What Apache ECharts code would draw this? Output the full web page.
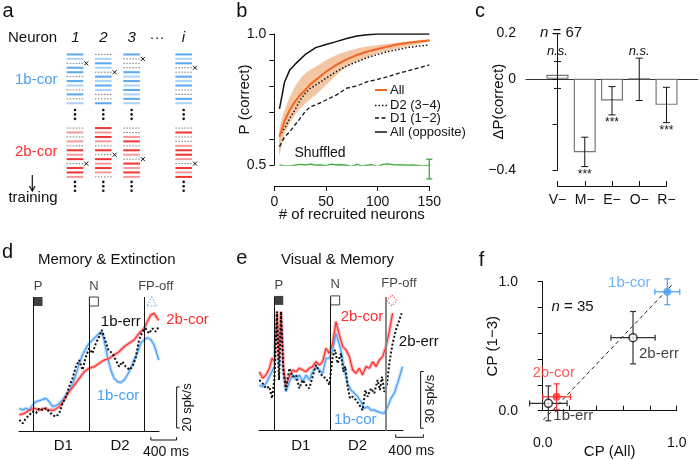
<!DOCTYPE html>
<html>
<head>
<meta charset="utf-8">
<script src="https://cdn.jsdelivr.net/npm/echarts@6/dist/echarts.min.js"></script>
<style>
  html, body { margin: 0; padding: 0; background: #fff; }
  #main { width: 700px; height: 460px; }
</style>
</head>
<body>
<div id="main"></div>
<script>
const FONT = '"Liberation Sans", Arial, Helvetica, sans-serif';
const INK = '#111';
const BLUE = '#4a9ff5';
const BLUE_BAND = '#c4e0fa';
const RED = '#ff2d2d';
const RED_BAND = '#f9b8b8';
const ORANGE = '#f26522';
const ORANGE_BAND = '#f4c7a4';
const GREEN = '#3aaa35';

// ---- panel a : raster schematic (b=blue, l=light blue, r=red, s=light red, p=dotted, x=dotted + cross)
const neuronHeaders = ['1', '2', '3', '···', 'i'];
const neuronCols = [0, 1, 2, 3.84];
const cor1bRows = ['blxbbpblpbpl', 'plblxblblppb', 'bxppblblblbl', 'blbxpblbppbl'];
const cor2bRows = ['pspsprsrxrrs', 'rsrsprxrsrsp', 'ppsrprsxrsrs', 'prppsrrsxrsr'];

// ---- panel b : decoding accuracy
const nNeurons = [5, 10, 15, 20, 25, 30, 35, 40, 50, 60, 70, 80, 90, 100, 110, 120, 130, 140, 150];
const pAll = [0.608, 0.669, 0.71, 0.742, 0.767, 0.786, 0.809, 0.824, 0.856, 0.882, 0.903, 0.92, 0.933, 0.943, 0.952, 0.961, 0.967, 0.971, 0.975];
const pD2 = [0.611, 0.64, 0.678, 0.71, 0.748, 0.774, 0.793, 0.805, 0.831, 0.856, 0.878, 0.894, 0.91, 0.922, 0.933, 0.941, 0.949, 0.954, 0.958];
const pD1 = [0.57, 0.608, 0.627, 0.653, 0.678, 0.704, 0.723, 0.729, 0.748, 0.767, 0.793, 0.802, 0.818, 0.827, 0.837, 0.85, 0.86, 0.871, 0.882];
const pOpposite = [0.714, 0.818, 0.863, 0.884, 0.903, 0.922, 0.935, 0.948, 0.96, 0.971, 0.983, 0.992, 0.997, 1, 1, 1, 1, 1, 1];
const nBand = [5, 10, 20, 30, 40, 50, 60, 70, 80, 100, 120, 150];
const pAllUpper = [0.634, 0.71, 0.8, 0.85, 0.875, 0.9, 0.92, 0.933, 0.945, 0.958, 0.967, 0.98];
const pAllLower = [0.538, 0.621, 0.691, 0.735, 0.767, 0.805, 0.843, 0.875, 0.894, 0.926, 0.945, 0.971];
const nShuffled = [5, 10, 15, 20, 25, 30, 35, 40, 45, 50, 55, 60, 65, 70, 75, 80, 85, 90, 95, 100, 105, 110, 115, 120, 125, 130, 135, 140, 145, 150];
const pShuffled = [0.5, 0.497, 0.497, 0.499, 0.502, 0.5, 0.503, 0.499, 0.5, 0.498, 0.503, 0.5, 0.501, 0.499, 0.495, 0.502, 0.497, 0.499, 0.501, 0.494, 0.502, 0.504, 0.501, 0.5, 0.5, 0.499, 0.5, 0.498, 0.497, 0.498];
const shuffledErr = [150, 0.447, 0.522];
const legendB = ['All', 'D2 (3\u22124)', 'D1 (1\u22122)', 'All (opposite)'];

// ---- panel c : ablation
const ablations = ['V\u2212', 'M\u2212', 'E\u2212', 'O\u2212', 'R\u2212'];
const deltaP = [0.018, -0.322, -0.095, 0, -0.114];
const deltaPLo = [-0.042, -0.385, -0.158, -0.095, -0.192];
const deltaPHi = [0.076, -0.256, -0.034, 0.091, -0.037];
const deltaPSig = ['n.s.', '***', '***', 'n.s.', '***'];

// ---- panel d : Memory & Extinction (time ms, spk/s)
const dEvents = [0, 864, 1713];
const eventNames = ['P', 'N', 'FP-off'];
const d1bCor = [[-216,11.1],[-165,10.2],[-113,11.1],[-62,10.2],[-10,12.7],[41,14.3],[118,15.1],[195,15.9],[247,14.3],[298,11.9],[375,12.7],[453,15.1],[504,17.6],[581,20.8],[658,27.3],[710,33.0],[761,37.1],[813,40.3],[864,42.8],[941,45.2],[1018,47.6],[1059,48.5],[1095,44.4],[1147,36.3],[1198,29.8],[1250,25.7],[1301,24.1],[1353,23.6],[1404,24.9],[1455,27.3],[1507,30.6],[1558,34.6],[1609,37.9],[1661,42.8],[1712,44.4],[1764,45.5],[1815,44.7],[1867,42.0],[1918,37.1],[1940,34.6]];
const d2bCor = [[-216,7.8],[-139,8.6],[-62,10.2],[15,11.1],[93,10.2],[170,11.1],[247,10.2],[324,10.2],[401,11.9],[478,15.1],[555,19.2],[633,22.4],[710,25.7],[787,28.9],[864,30.6],[941,31.4],[1018,33.0],[1095,34.6],[1173,35.4],[1250,37.1],[1327,38.7],[1404,41.1],[1481,42.8],[1558,44.4],[1635,47.6],[1712,50.1],[1764,53.3],[1815,56.6],[1867,57.4],[1918,55.0],[1940,54.0]];
const d1bErr = [[-216,5.4],[-165,3.7],[-113,6.2],[-62,7.8],[-10,9.4],[41,8.6],[93,11.1],[144,10.2],[195,11.1],[247,9.4],[298,7.8],[350,7.0],[401,8.6],[453,13.5],[504,16.7],[555,21.6],[607,25.7],[658,31.4],[710,34.6],[761,29.8],[813,36.3],[864,40.3],[915,37.9],[967,42.8],[1018,46.0],[1059,49.3],[1111,44.4],[1162,39.5],[1224,37.9],[1275,34.6],[1327,31.4],[1378,33.8],[1430,31.4],[1492,29.8],[1543,32.2],[1584,35.8],[1635,44.4],[1687,48.5],[1738,50.1],[1790,47.6],[1841,50.1],[1893,48.5],[1940,50.9]];

// ---- panel e : Visual & Memory
const eEvents = [0, 815, 1612];
const e2bCor = [[-212,31.2],[-164,27.7],[-116,29.5],[-67,33.0],[-29,38.3],[5,36.5],[43,63.0],[72,37.4],[101,63.0],[135,33.9],[173,24.2],[221,28.6],[270,32.1],[318,31.2],[366,33.0],[414,32.1],[462,31.2],[510,33.0],[558,33.9],[606,36.5],[655,34.7],[703,36.5],[751,43.6],[799,40.9],[847,46.2],[895,57.7],[943,50.6],[992,44.5],[1040,42.7],[1088,39.2],[1136,32.1],[1184,30.3],[1232,33.0],[1280,29.5],[1328,33.9],[1377,33.0],[1425,36.5],[1473,33.9],[1521,37.4],[1569,39.2],[1617,44.5],[1665,52.4],[1713,62.1]];
const e1bCor = [[-212,24.2],[-164,23.3],[-116,25.0],[-67,28.6],[5,33.9],[43,62.1],[72,33.9],[101,62.1],[135,30.3],[173,20.6],[221,25.9],[270,29.5],[318,26.8],[366,29.5],[414,25.9],[462,29.5],[510,26.8],[558,31.2],[606,33.9],[655,32.1],[703,30.3],[751,38.3],[799,38.3],[847,42.7],[895,51.5],[967,42.7],[1016,32.1],[1064,25.0],[1112,21.5],[1160,19.8],[1208,18.0],[1256,15.3],[1304,11.8],[1352,12.7],[1400,10.9],[1448,10.9],[1496,10.1],[1545,9.5],[1593,9.2],[1641,12.7],[1689,17.1],[1737,19.8],[1785,25.0],[1834,31.2],[1858,33.9]];
const e2bErr = [[-212,26.8],[-164,25.0],[-116,22.4],[-67,23.3],[-29,17.1],[5,26.8],[43,63.0],[72,26.8],[101,63.0],[135,32.1],[173,21.5],[221,33.0],[270,28.6],[318,29.5],[366,22.4],[414,26.8],[462,24.2],[510,22.4],[558,28.6],[606,34.7],[655,31.2],[703,28.6],[751,27.7],[799,24.2],[847,39.2],[881,42.7],[919,35.6],[967,40.9],[1001,31.2],[1030,33.9],[1064,23.3],[1097,17.1],[1136,18.0],[1184,16.2],[1232,13.6],[1280,10.9],[1319,21.5],[1352,18.0],[1400,22.4],[1448,19.8],[1496,26.8],[1530,21.5],[1560,28.6],[1593,20.6],[1627,23.3],[1665,35.6],[1713,46.2],[1761,53.3],[1810,58.6],[1843,62.1]];

// ---- panel f : choice probability
const cpLabels = ['1b-cor', '2b-err', '2b-cor', '1b-err'];
const cpAll = [0.93, 0.674, 0.104, 0.042];
const cp13 = [0.922, 0.566, 0.108, 0.057];
const cpAllErr = [0.093, 0.165, 0.103, 0.14];
const cp13Err = [0.1, 0.203, 0.1, 0.135];
const cpFilled = [true, false, true, false];
const cpFit = [[0.005, -0.072], [0.975, 0.987]];

// ---------------------------------------------------------------------------
const RED_ROW0 = 16.58;
const rasterItems = [];
const rasterKinds = [];
neuronCols.forEach((x, c) => {
  cor1bRows[c].split('').forEach((k, i) => { rasterItems.push([x, i]); rasterKinds.push(k); });
  cor2bRows[c].split('').forEach((k, i) => { rasterItems.push([x, RED_ROW0 + i]); rasterKinds.push(k); });
  [12.5, 13.5, 14.5, 28.7, 29.7, 30.7].forEach(r => { rasterItems.push([x, r]); rasterKinds.push('.'); });
});

const rasterStyle = {
  b: { stroke: '#5aa8f2', lineWidth: 2 },
  l: { stroke: '#a9d3f8', lineWidth: 2 },
  r: { stroke: '#f23434', lineWidth: 2 },
  s: { stroke: '#f59a9a', lineWidth: 2 },
  p: { stroke: '#777', lineWidth: 1, lineDash: [1.5, 1.5] },
  x: { stroke: '#777', lineWidth: 1, lineDash: [1.5, 1.5] }
};

function renderRaster(params, api) {
  const kind = rasterKinds[params.dataIndex];
  const c = api.coord([api.value(0), api.value(1)]);
  if (kind === '.') {
    return { type: 'circle', shape: { cx: c[0], cy: c[1], r: 1.3 }, style: { fill: INK } };
  }
  const half = 8.3;
  const children = [{
    type: 'line', shape: { x1: c[0] - half, y1: c[1], x2: c[0] + half, y2: c[1] }, style: rasterStyle[kind]
  }];
  if (kind === 'x') {
    const cx = c[0] + half + 3, s = 2;
    children.push({ type: 'line', shape: { x1: cx - s, y1: c[1] - s, x2: cx + s, y2: c[1] + s }, style: { stroke: INK, lineWidth: 1 } });
    children.push({ type: 'line', shape: { x1: cx - s, y1: c[1] + s, x2: cx + s, y2: c[1] - s }, style: { stroke: INK, lineWidth: 1 } });
  }
  return { type: 'group', children };
}

function txt(x, y, text, o = {}) {
  return {
    type: 'text', x, y, rotation: o.rot || 0, z: 50,
    style: {
      text, fill: o.color || INK, fontSize: o.size || 14, fontFamily: FONT,
      fontStyle: o.italic ? 'italic' : 'normal',
      align: o.align || 'center', verticalAlign: 'middle', rich: o.rich
    }
  };
}

function hidden(gridIndex, min, max, extra) {
  return Object.assign({ gridIndex, type: 'value', min, max, show: false, splitLine: { show: false } }, extra || {});
}

const axisLineStyle = { show: true, lineStyle: { color: INK, width: 1 } };
const tickStyle = { show: true, length: 5, lineStyle: { color: INK, width: 1 } };
const labelStyle = { color: INK, fontSize: 14, fontFamily: FONT };
const nameStyle = { color: INK, fontSize: 15, fontFamily: FONT };
const near = (a, b) => Math.abs(a - b) < 1e-6;

function traceLine(name, data, xi, color, width, type, z) {
  return {
    name, type: 'line', xAxisIndex: xi, yAxisIndex: xi, data, showSymbol: false, symbol: 'none',
    lineStyle: { color, width, type: type || 'solid' }, z: z || 3, silent: true
  };
}

function eventSeries(xi, events, yTop, fpSymbol, fpColor, fpOffset, fpSize, fpLabelShift, lineFp) {
  return [{
    type: 'line', xAxisIndex: xi, yAxisIndex: xi, data: [], silent: true,
    markLine: {
      symbol: 'none', silent: true, label: { show: false },
      data: events.map((t, i) => ({
        xAxis: t,
        lineStyle: i === 2 && lineFp ? lineFp : { color: INK, width: 1, type: 'solid' }
      }))
    }
  }, {
    type: 'scatter', xAxisIndex: xi, yAxisIndex: xi, silent: true, z: 6,
    data: events.map((t, i) => {
      const base = { value: [t, yTop] };
      if (i === 0) return Object.assign(base, { symbol: 'rect', symbolSize: 9, symbolOffset: [4.7, 0], itemStyle: { color: INK } });
      if (i === 1) return Object.assign(base, { symbol: 'rect', symbolSize: 9, symbolOffset: [4.7, 0], itemStyle: { color: '#fff', borderColor: INK, borderWidth: 1 } });
      return Object.assign(base, {
        symbol: fpSymbol, symbolSize: fpSize, symbolOffset: [fpOffset, 0],
        itemStyle: { color: '#fff', borderColor: fpColor, borderWidth: 1, borderType: [1.5, 1.5] },
        label: { offset: [fpLabelShift, 0] }
      });
    }),
    label: {
      show: true, position: 'top', distance: 4, color: INK, fontSize: 13, fontFamily: FONT,
      formatter: p => eventNames[p.dataIndex]
    }
  }];
}

// scale bars: vertical bar (spk/s) and horizontal bar (ms)
function scaleBarSeries(xi, vBarT, vBarV0, spk, hBarT0, hBarV, ms) {
  return {
    type: 'custom', xAxisIndex: xi, yAxisIndex: xi, clip: false, silent: true, data: [[0, 0]],
    renderItem(params, api) {
      const a = api.coord([vBarT, vBarV0]), b = api.coord([vBarT, vBarV0 + spk]);
      const c = api.coord([hBarT0, hBarV]), d = api.coord([hBarT0 + ms, hBarV]);
      const st = { stroke: INK, lineWidth: 1 };
      return {
        type: 'group', children: [
          { type: 'line', shape: { x1: a[0], y1: a[1], x2: b[0], y2: b[1] }, style: st },
          { type: 'line', shape: { x1: a[0], y1: a[1], x2: a[0] + 3, y2: a[1] }, style: st },
          { type: 'line', shape: { x1: b[0], y1: b[1], x2: b[0] + 3, y2: b[1] }, style: st },
          { type: 'line', shape: { x1: c[0], y1: c[1], x2: d[0], y2: d[1] }, style: st },
          { type: 'line', shape: { x1: c[0], y1: c[1], x2: c[0], y2: c[1] - 3 }, style: st },
          { type: 'line', shape: { x1: d[0], y1: d[1], x2: d[0], y2: d[1] - 3 }, style: st }
        ]
      };
    }
  };
}

function grid(left, top, width, height) {
  return { left, top, width, height, outerBoundsMode: 'none', containLabel: false };
}

const option = {
  animation: false,
  backgroundColor: '#fff',
  textStyle: { fontFamily: FONT },
  grid: [
    grid(60, 50, 140, 150),          // a
    grid(274.3, 34, 155, 131),       // b
    grid(526, 33.3, 172, 136.7),     // c bars
    grid(557.5, 185, 109, 1),        // c category axis
    grid(19, 297, 140, 134),         // d
    grid(259, 297, 144, 133.7),      // e
    grid(542.7, 281.7, 134, 129)     // f
  ],
  xAxis: [
    hidden(0, -0.53, 4.417),
    {
      gridIndex: 1, type: 'value', min: 0, max: 150, interval: 50, offset: 21,
      axisLine: axisLineStyle, axisTick: tickStyle, axisLabel: Object.assign({ margin: 9 }, labelStyle),
      splitLine: { show: false }, name: '# of recruited neurons', nameLocation: 'middle', nameGap: 21,
      nameMoveOverlap: false, nameTextStyle: nameStyle
    },
    {
      gridIndex: 2, type: 'value', min: -1.156, max: 5.156,
      axisLine: { show: true, onZero: true, lineStyle: { color: '#333', width: 1 } },
      axisTick: { show: false }, axisLabel: { show: false }, splitLine: { show: false }
    },
    {
      gridIndex: 3, type: 'value', min: 0, max: 4, interval: 1,
      axisLine: axisLineStyle, axisTick: Object.assign({ inside: true }, tickStyle),
      axisLabel: Object.assign({ margin: 7, formatter: v => ablations[Math.round(v)] }, labelStyle),
      splitLine: { show: false }
    },
    Object.assign(hidden(4, -221, 1944), { show: true, axisLine: axisLineStyle, axisTick: { show: false }, axisLabel: { show: false } }),
    Object.assign(hidden(5, -217, 1863), { show: true, axisLine: axisLineStyle, axisTick: { show: false }, axisLabel: { show: false } }),
    {
      gridIndex: 6, type: 'value', min: 0, max: 1, interval: 0.2, offset: 20.3,
      axisLine: axisLineStyle, axisTick: Object.assign({ inside: true }, tickStyle),
      axisLabel: Object.assign({ margin: 5, formatter: v => (near(v, 0) ? '0.0' : near(v, 1) ? '1.0' : '') }, labelStyle),
      splitLine: { show: false }, name: 'CP (All)', nameLocation: 'middle', nameGap: 13,
      nameMoveOverlap: false, nameTextStyle: nameStyle
    }
  ],
  yAxis: [
    hidden(0, -1, 32.78, { inverse: true }),
    {
      gridIndex: 1, type: 'value', min: 0.5, max: 1, interval: 0.1, offset: 2,
      axisLine: axisLineStyle, axisTick: tickStyle,
      axisLabel: Object.assign({ margin: 6, formatter: v => (near(v, 0.5) ? '0.5' : near(v, 1) ? '1.0' : '') }, labelStyle),
      splitLine: { show: false }, name: 'P (correct)', nameLocation: 'middle', nameGap: 20,
      nameMoveOverlap: false, nameTextStyle: nameStyle
    },
    {
      gridIndex: 2, type: 'value', min: -0.4, max: 0.2, interval: 0.2,
      axisLine: axisLineStyle, axisTick: tickStyle,
      axisLabel: Object.assign({
        margin: 10,
        formatter: v => { const r = Math.round(v * 10) / 10; return r === 0.2 ? '0.2' : r === 0 ? '0' : r === -0.4 ? '\u22120.4' : ''; }
      }, labelStyle),
      splitLine: { show: false }, name: '\u0394P(correct)', nameLocation: 'middle', nameGap: 20,
      nameMoveOverlap: false, nameTextStyle: nameStyle
    },
    hidden(3, 0, 1),
    hidden(4, 0, 65.4),
    hidden(5, 0, 70.7),
    {
      gridIndex: 6, type: 'value', min: 0, max: 1, interval: 0.2, offset: 14.7,
      axisLine: axisLineStyle, axisTick: tickStyle,
      axisLabel: Object.assign({ margin: 10, formatter: v => (near(v, 0) ? '0.0' : near(v, 1) ? '1.0' : '') }, labelStyle),
      splitLine: { show: false }, name: 'CP (1\u22123)', nameLocation: 'middle', nameGap: 28,
      nameMoveOverlap: false, nameTextStyle: nameStyle
    }
  ],
  series: [
    // ---- a
    {
      type: 'custom', xAxisIndex: 0, yAxisIndex: 0, data: rasterItems, renderItem: renderRaster,
      clip: false, silent: true
    },
    // ---- b
    {
      type: 'custom', xAxisIndex: 1, yAxisIndex: 1, data: [[0, 0]], silent: true, z: 1,
      renderItem(params, api) {
        const pts = nBand.map((n, i) => api.coord([n, pAllUpper[i]]));
        for (let i = nBand.length - 1; i >= 0; i--) pts.push(api.coord([nBand[i], pAllLower[i]]));
        return { type: 'polygon', shape: { points: pts, smooth: 0.3 }, style: { fill: ORANGE_BAND } };
      }
    },
    traceLine('All (opposite)', nNeurons.map((n, i) => [n, pOpposite[i]]), 1, INK, 1.5),
    traceLine('D1', nNeurons.map((n, i) => [n, pD1[i]]), 1, INK, 1.3, [4, 2.5]),
    traceLine('D2', nNeurons.map((n, i) => [n, pD2[i]]), 1, INK, 1.5, [1.5, 2]),
    traceLine('All', nNeurons.map((n, i) => [n, pAll[i]]), 1, ORANGE, 2, 'solid', 4),
    traceLine('Shuffled', nShuffled.map((n, i) => [n, pShuffled[i]]), 1, GREEN, 1.3),
    {
      type: 'custom', xAxisIndex: 1, yAxisIndex: 1, data: [shuffledErr], clip: false, silent: true, z: 5,
      renderItem(params, api) {
        const lo = api.coord([api.value(0), api.value(1)]), hi = api.coord([api.value(0), api.value(2)]);
        const st = { stroke: GREEN, lineWidth: 1.3 };
        return {
          type: 'group', children: [
            { type: 'line', shape: { x1: lo[0], y1: lo[1], x2: hi[0], y2: hi[1] }, style: st },
            { type: 'line', shape: { x1: lo[0] - 3, y1: lo[1], x2: lo[0] + 3, y2: lo[1] }, style: st },
            { type: 'line', shape: { x1: hi[0] - 3, y1: hi[1], x2: hi[0] + 3, y2: hi[1] }, style: st }
          ]
        };
      }
    },
    // ---- c
    {
      type: 'bar', xAxisIndex: 2, yAxisIndex: 2, barWidth: 22, silent: true,
      data: deltaP.map((v, i) => [i, v]),
      itemStyle: { color: '#fff', borderColor: '#777', borderWidth: 1.2 }
    },
    {
      type: 'custom', xAxisIndex: 2, yAxisIndex: 2, clip: false, silent: true, z: 5,
      data: deltaP.map((v, i) => [i, deltaPLo[i], deltaPHi[i]]),
      renderItem(params, api) {
        const i = params.dataIndex;
        const lo = api.coord([api.value(0), api.value(1)]), hi = api.coord([api.value(0), api.value(2)]);
        const st = { stroke: INK, lineWidth: 1 };
        const sig = deltaPSig[i];
        const children = [
          { type: 'line', shape: { x1: lo[0], y1: lo[1], x2: hi[0], y2: hi[1] }, style: st },
          { type: 'line', shape: { x1: lo[0] - 3.5, y1: lo[1], x2: lo[0] + 3.5, y2: lo[1] }, style: st },
          { type: 'line', shape: { x1: hi[0] - 3.5, y1: hi[1], x2: hi[0] + 3.5, y2: hi[1] }, style: st }
        ];
        if (sig === 'n.s.') {
          const p = api.coord([api.value(0), 0.12]);
          children.push({ type: 'text', x: p[0], y: p[1], style: { text: sig, fill: INK, fontSize: 13, fontStyle: 'italic', fontFamily: FONT, align: 'center', verticalAlign: 'middle' } });
        } else {
          children.push({ type: 'text', x: lo[0], y: lo[1] + 2, style: { text: sig, fill: INK, fontSize: 12, fontFamily: FONT, align: 'center', verticalAlign: 'top' } });
        }
        return { type: 'group', children };
      }
    },
    // ---- d
    traceLine('d1bCorBand', d1bCor, 4, BLUE_BAND, 3.5, 'solid', 2),
    traceLine('d2bCorBand', d2bCor, 4, RED_BAND, 3.5, 'solid', 2),
    traceLine('d1bCor', d1bCor, 4, BLUE, 1.2),
    traceLine('d2bCor', d2bCor, 4, RED, 1.2),
    traceLine('d1bErr', d1bErr, 4, INK, 2, [2, 2], 4),
    ...eventSeries(4, dEvents, 63.2, 'triangle', BLUE, 7.7, [10, 9], 4),
    scaleBarSeries(4, 2217, 1.5, 20, 1817, -4.4, 400),
    // ---- e
    traceLine('e1bCorBand', e1bCor, 5, BLUE_BAND, 3.5, 'solid', 2),
    traceLine('e2bCorBand', e2bCor, 5, RED_BAND, 3.5, 'solid', 2),
    traceLine('e1bCor', e1bCor, 5, BLUE, 1.2),
    traceLine('e2bCor', e2bCor, 5, RED, 1.2),
    traceLine('e2bErr', e2bErr, 5, INK, 2, [2, 2], 4),
    ...eventSeries(5, eEvents, 68.9, 'diamond', RED, 6.3, [10, 11], 7, { color: '#888', width: 2, type: 'solid' }),
    scaleBarSeries(5, 2118, 1.3, 30, 1757, -3.5, 400),
    // ---- f
    Object.assign(traceLine('fit', cpFit, 6, '#222', 1, [4, 3], 2), { clip: false }),
    {
      type: 'custom', xAxisIndex: 6, yAxisIndex: 6, clip: false, silent: true, z: 4,
      data: cpAll.map((x, i) => [x, cp13[i], cpAllErr[i], cp13Err[i]]),
      renderItem(params, api) {
        const i = params.dataIndex;
        const x = api.value(0), y = api.value(1), ex = api.value(2), ey = api.value(3);
        const color = cpFilled[i] ? (i === 0 ? BLUE : RED) : '#333';
        const l = api.coord([x - ex, y]), r = api.coord([x + ex, y]);
        const t = api.coord([x, y + ey]), b = api.coord([x, y - ey]);
        const st = { stroke: color, lineWidth: 1.2 };
        return {
          type: 'group', children: [
            { type: 'line', shape: { x1: l[0], y1: l[1], x2: r[0], y2: r[1] }, style: st },
            { type: 'line', shape: { x1: l[0], y1: l[1] - 3, x2: l[0], y2: l[1] + 3 }, style: st },
            { type: 'line', shape: { x1: r[0], y1: r[1] - 3, x2: r[0], y2: r[1] + 3 }, style: st },
            { type: 'line', shape: { x1: t[0], y1: t[1], x2: b[0], y2: b[1] }, style: st },
            { type: 'line', shape: { x1: t[0] - 3, y1: t[1], x2: t[0] + 3, y2: t[1] }, style: st },
            { type: 'line', shape: { x1: b[0] - 3, y1: b[1], x2: b[0] + 3, y2: b[1] }, style: st }
          ]
        };
      }
    },
    {
      type: 'scatter', xAxisIndex: 6, yAxisIndex: 6, silent: true, z: 6, symbolSize: 8,
      data: cpAll.map((x, i) => ({
        value: [x, cp13[i]],
        itemStyle: cpFilled[i]
          ? { color: i === 0 ? BLUE : RED }
          : { color: '#fff', borderColor: INK, borderWidth: 1.5 },
        label: {
          show: true, position: 'inside', fontSize: 15, fontFamily: FONT,
          color: cpFilled[i] ? (i === 0 ? BLUE : RED) : INK,
          offset: [[-38, -9], [26, 16], [-3, -24], [25, 13]][i],
          formatter: cpLabels[i]
        }
      }))
    }
  ],
  graphic: {
    elements: [
      // panel letters
      txt(8, 11.7, 'a', { size: 20 }),
      txt(241.7, 11.7, 'b', { size: 20 }),
      txt(480, 11.7, 'c', { size: 20 }),
      txt(7.5, 252, 'd', { size: 20 }),
      txt(241.7, 258.4, 'e', { size: 20 }),
      txt(481.5, 260, 'f', { size: 20 }),
      // a
      txt(8, 38.3, 'Neuron', { size: 15, align: 'left' }),
      txt(75.5, 38.3, neuronHeaders[0], { size: 15, italic: true }),
      txt(103.3, 38.3, neuronHeaders[1], { size: 15, italic: true }),
      txt(131.7, 38.3, neuronHeaders[2], { size: 15, italic: true }),
      txt(157, 38.3, neuronHeaders[3], { size: 15 }),
      txt(183.5, 38.3, neuronHeaders[4], { size: 15, italic: true }),
      txt(57.5, 79.5, '1b-cor', { size: 15, align: 'right', color: BLUE }),
      txt(57.5, 152, '2b-cor', { size: 15, align: 'right', color: RED }),
      txt(33, 198, 'training', { size: 15 }),
      { type: 'line', shape: { x1: 32.3, y1: 175, x2: 32.3, y2: 190 }, style: { stroke: INK, lineWidth: 1.2 } },
      { type: 'polyline', shape: { points: [[29.5, 186], [32.3, 191], [35.1, 186]] }, style: { stroke: INK, lineWidth: 1.2, fill: null } },
      // b legend
      { type: 'line', shape: { x1: 375, y1: 90, x2: 387, y2: 90 }, style: { stroke: ORANGE, lineWidth: 2 } },
      { type: 'line', shape: { x1: 375, y1: 105.5, x2: 387, y2: 105.5 }, style: { stroke: INK, lineWidth: 1.5, lineDash: [1.5, 2] } },
      { type: 'line', shape: { x1: 375, y1: 118, x2: 387, y2: 118 }, style: { stroke: INK, lineWidth: 1.3, lineDash: [4, 2.5] } },
      { type: 'line', shape: { x1: 375, y1: 132, x2: 387, y2: 132 }, style: { stroke: INK, lineWidth: 1.5 } },
      txt(390, 90, legendB[0], { size: 13, align: 'left' }),
      txt(390, 105.5, legendB[1], { size: 13, align: 'left' }),
      txt(390, 118, legendB[2], { size: 13, align: 'left' }),
      txt(390, 132, legendB[3], { size: 13, align: 'left' }),
      txt(320, 153, 'Shuffled', { size: 14 }),
      // c
      txt(561, 33, '{i|n} = 67', { size: 15, rich: { i: { fontStyle: 'italic', fontSize: 15, fontFamily: FONT } } }),
      // d
      txt(106.7, 260, 'Memory & Extinction', { size: 15 }),
      txt(120.8, 321.5, '1b-err', { size: 15 }),
      txt(187.5, 320, '2b-cor', { size: 15, color: RED }),
      txt(118, 395.7, '1b-cor', { size: 15, color: BLUE }),
      txt(187, 407.5, '20 spk/s', { size: 13, rot: Math.PI / 2 }),
      txt(166, 451.7, '400 ms', { size: 14 }),
      txt(63.3, 446, 'D1', { size: 15 }),
      txt(120, 446, 'D2', { size: 15 }),
      // e
      txt(337.5, 260, 'Visual & Memory', { size: 15 }),
      txt(362, 317, '2b-cor', { size: 15, color: RED }),
      txt(418.8, 342, '2b-err', { size: 15 }),
      txt(355.3, 419.5, '1b-cor', { size: 15, color: BLUE }),
      txt(430, 399, '30 spk/s', { size: 13, rot: Math.PI / 2 }),
      txt(411.3, 451, '400 ms', { size: 14 }),
      txt(300.8, 446, 'D1', { size: 15 }),
      txt(357.5, 446, 'D2', { size: 15 }),
      // f
      txt(572.5, 306.7, '{i|n} = 35', { size: 15, rich: { i: { fontStyle: 'italic', fontSize: 15, fontFamily: FONT } } })
    ]
  }
};

const chart = echarts.init(document.getElementById('main'));
chart.setOption(option);
</script>
</body>
</html>
